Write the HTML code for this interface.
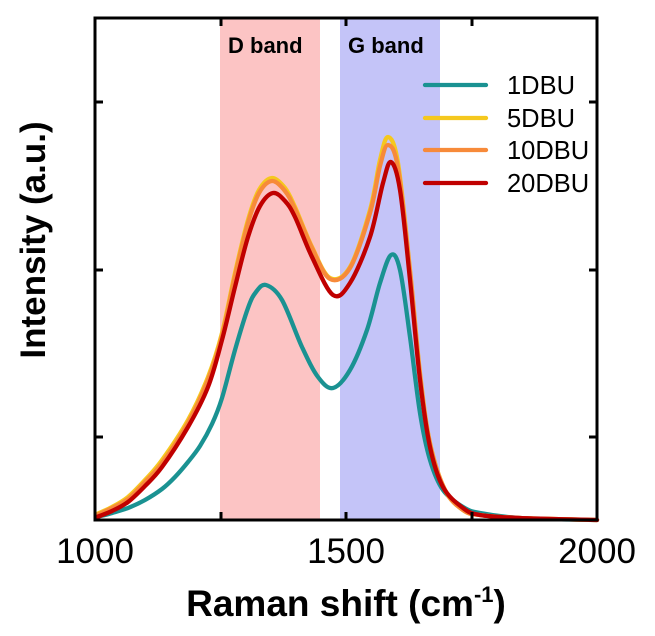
<!DOCTYPE html>
<html><head><meta charset="utf-8"><style>
html,body{margin:0;padding:0;background:#fff;}
svg{display:block;}
text{font-family:"Liberation Sans",Arial,sans-serif;}
</style></head><body>
<svg id="s" width="655" height="636" viewBox="0 0 655 636" xmlns="http://www.w3.org/2000/svg">
<rect x="220" y="18" width="100" height="502" fill="#fcc4c4"/>
<rect x="340" y="18" width="100" height="502" fill="#c4c4f8"/>
<g id="curves" fill="none" stroke-width="4.3" stroke-linejoin="round" stroke-linecap="round"></g>
<rect x="95" y="18" width="502" height="502" fill="none" stroke="#000" stroke-width="3"/>
<g stroke="#000" stroke-width="3">
<line x1="221" y1="520" x2="221" y2="512"/><line x1="346" y1="520" x2="346" y2="512"/><line x1="472" y1="520" x2="472" y2="512"/>
<line x1="221" y1="18" x2="221" y2="26"/><line x1="346" y1="18" x2="346" y2="26"/><line x1="472" y1="18" x2="472" y2="26"/>
<line x1="95" y1="102" x2="103" y2="102"/><line x1="95" y1="270" x2="103" y2="270"/><line x1="95" y1="437" x2="103" y2="437"/>
<line x1="597" y1="102" x2="589" y2="102"/><line x1="597" y1="270" x2="589" y2="270"/><line x1="597" y1="437" x2="589" y2="437"/>
</g>
<text x="228" y="53" font-size="22" font-weight="bold">D band</text>
<text x="348" y="53" font-size="22" font-weight="bold">G band</text>
<g stroke-width="4.3" stroke-linecap="round">
<line x1="425" y1="85" x2="486" y2="85" stroke="#1a9292"/>
<line x1="425" y1="118" x2="486" y2="118" stroke="#f5c81e"/>
<line x1="425" y1="150" x2="486" y2="150" stroke="#f78a3a"/>
<line x1="425" y1="183" x2="486" y2="183" stroke="#c00000"/>
</g>
<g font-size="25.5">
<text x="507" y="94">1DBU</text>
<text x="507" y="127">5DBU</text>
<text x="507" y="159">10DBU</text>
<text x="507" y="192">20DBU</text>
</g>
<g font-size="35" text-anchor="middle">
<text x="95" y="563">1000</text>
<text x="346" y="563">1500</text>
<text x="597" y="563">2000</text>
</g>
<text x="346" y="616" font-size="37" font-weight="bold" text-anchor="middle">Raman shift (cm<tspan dy="-14" font-size="22">-1</tspan><tspan dy="14">)</tspan></text>
<text transform="translate(45,240) rotate(-90)" font-size="35" font-weight="bold" text-anchor="middle">Intensity (a.u.)</text>
</svg>
<script>
function cr(p){let d="M"+p[0][0]+","+p[0][1];for(let i=0;i<p.length-1;i++){const p0=p[i-1]||p[i],p1=p[i],p2=p[i+1],p3=p[i+2]||p2;
const c1=[p1[0]+(p2[0]-p0[0])/6,p1[1]+(p2[1]-p0[1])/6],c2=[p2[0]-(p3[0]-p1[0])/6,p2[1]-(p3[1]-p1[1])/6];
d+=" C"+c1.map(v=>v.toFixed(1))+" "+c2.map(v=>v.toFixed(1))+" "+p2;}return d;}
const S={
"#1a9292":[[97,517],[112,513],[128,508],[145,500],[162,489],[175,477],[188,462],[200,446],[212,424],[222,398],[235,350],[248,308],[256,292],[266,285],[282,300],[302,347],[318,377],[333,388],[350,370],[367,330],[380,283],[391,255],[400,270],[410,337],[420,413],[430,460],[443,490],[463,507],[480,513],[520,518],[597,520]],
"#f5c81e":[[97,514],[112,507],[128,497],[145,480],[162,460],[188,420],[208,377],[222,333],[235,273],[248,220],[259,190],[272,178],[285,188],[295,207],[312,247],[330,278],[350,267],[370,210],[380,160],[388,137],[398,163],[410,270],[420,373],[430,443],[445,490],[463,510],[480,515],[520,518],[597,520]],
"#f78a3a":[[97,515],[112,508],[128,499],[145,482],[162,463],[188,423],[208,380],[222,336],[235,276],[248,223],[259,193],[272,181],[285,191],[295,209],[312,248],[330,279],[350,268],[370,213],[380,166],[388,145],[398,168],[410,272],[420,375],[430,444],[445,490],[463,510],[480,515],[520,518],[597,520]],
"#c00000":[[97,517],[112,511],[128,502],[145,486],[162,467],[188,427],[208,387],[222,340],[235,287],[248,237],[260,206],[273,193],[285,201],[295,217],[312,257],[333,295],[350,283],[370,237],[383,183],[391,162],[400,190],[410,280],[420,380],[430,447],[443,487],[463,508],[480,515],[520,518],[597,520]]};
const g=document.getElementById("curves");
for(const c in S){const e=document.createElementNS("http://www.w3.org/2000/svg","path");e.setAttribute("d",cr(S[c]));e.setAttribute("stroke",c);g.appendChild(e);}
</script>
</body></html>
